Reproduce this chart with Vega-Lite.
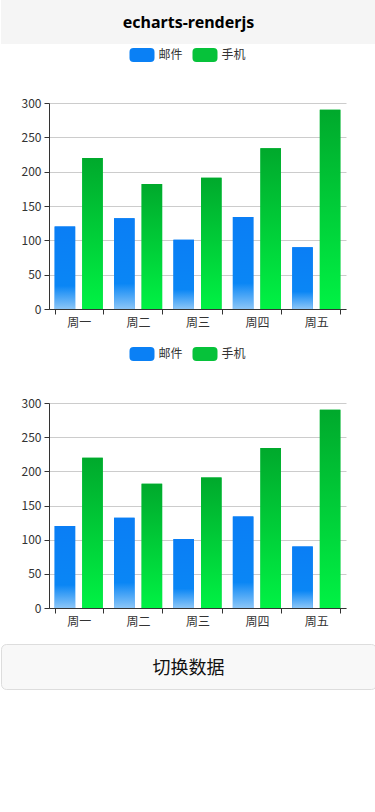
{
  "$schema": "https://vega.github.io/schema/vega-lite/v6.json",
  "padding": 0,
  "spacing": 0,
  "background": "white",
  "datasets": {
    "week": [
      {"day": "周一", "series": "邮件", "value": 120},
      {"day": "周二", "series": "邮件", "value": 132},
      {"day": "周三", "series": "邮件", "value": 101},
      {"day": "周四", "series": "邮件", "value": 134},
      {"day": "周五", "series": "邮件", "value": 90},
      {"day": "周一", "series": "手机", "value": 220},
      {"day": "周二", "series": "手机", "value": 182},
      {"day": "周三", "series": "手机", "value": 191},
      {"day": "周四", "series": "手机", "value": 234},
      {"day": "周五", "series": "手机", "value": 290}
    ],
    "header": [{"t": "echarts-renderjs"}],
    "button": [{"t": "切换数据"}]
  },
  "config": {
    "view": {"stroke": null},
    "font": "Noto Sans CJK SC"
  },
  "resolve": {
    "scale": {"color": "independent", "x": "independent", "y": "independent", "xOffset": "independent"},
    "legend": {"color": "independent"}
  },
  "vconcat": [
    {
      "width": 375,
      "height": 44,
      "view": {"fill": "#f5f5f5", "stroke": null},
      "data": {"name": "header"},
      "mark": {"type": "text", "fontSize": 16, "fontWeight": "bold", "font": "Noto Sans", "color": "#000000", "dy": 1},
      "encoding": {"text": {"field": "t", "type": "nominal"}}
    },
    {
      "width": 345,
      "height": 206,
      "data": {"name": "week"},
      "encoding": {
        "x": {
          "field": "day", "type": "nominal",
          "sort": ["周一", "周二", "周三", "周四", "周五"],
          "scale": {"paddingInner": 0.19, "paddingOuter": 0.095, "range": [48, 345]},
          "axis": {"title": null, "labelAngle": 0, "tickBand": "extent", "domainColor": "#333333", "tickColor": "#333333", "tickSize": 5, "labelColor": "#333333", "labelFontSize": 12, "labelPadding": 3, "grid": false, "minExtent": 35, "maxExtent": 35}
        },
        "xOffset": {"field": "series", "type": "nominal", "sort": ["邮件", "手机"], "scale": {"paddingInner": 0.255}},
        "y": {
          "field": "value", "type": "quantitative",
          "scale": {"domain": [0, 300]},
          "axis": {"title": null, "offset": -48, "values": [0, 50, 100, 150, 200, 250, 300], "grid": true, "gridColor": "#cccccc", "domainColor": "#333333", "tickColor": "#333333", "tickSize": 5, "labelColor": "#333333", "labelFontSize": 12, "labelPadding": 3}
        }
      },
      "layer": [
        {
          "mark": {"type": "bar"},
          "encoding": {
            "color": {
              "field": "series", "type": "nominal", "sort": ["邮件", "手机"],
              "scale": {"range": ["#0a80f5", "#06c23a"]},
              "legend": {"orient": "none", "legendX": 130, "legendY": -59, "padding": 1, "direction": "horizontal", "title": null, "symbolType": "M-0.85,-0.7L0.85,-0.7Q1.25,-0.7,1.25,-0.3L1.25,0.3Q1.25,0.7,0.85,0.7L-0.85,0.7Q-1.25,0.7,-1.25,0.3L-1.25,-0.3Q-1.25,-0.7,-0.85,-0.7Z", "symbolSize": 400, "symbolStrokeWidth": 0, "symbolOpacity": 1, "labelFontSize": 12, "labelColor": "#333333", "labelOffset": 6.5, "columnPadding": 9}
            }
          }
        },
        {
          "mark": {"type": "bar"},
          "encoding": {
            "fill": {
              "condition": {"test": "datum.series === '邮件'", "value": {"gradient": "linear", "x1": 0, "y1": 0, "x2": 0, "y2": 1, "stops": [{"offset": 0, "color": "#0a7ef5"}, {"offset": 0.72, "color": "#0a86f5"}, {"offset": 1, "color": "#8cc6f7"}]}},
              "value": {"gradient": "linear", "x1": 0, "y1": 0, "x2": 0, "y2": 1, "stops": [{"offset": 0, "color": "#00a92c"}, {"offset": 1, "color": "#00f244"}]}
            }
          }
        }
      ]
    },
    {
      "width": 345,
      "height": 205,
      "data": {"name": "week"},
      "encoding": {
        "x": {
          "field": "day", "type": "nominal",
          "sort": ["周一", "周二", "周三", "周四", "周五"],
          "scale": {"paddingInner": 0.19, "paddingOuter": 0.095, "range": [48, 345]},
          "axis": {"title": null, "labelAngle": 0, "tickBand": "extent", "domainColor": "#333333", "tickColor": "#333333", "tickSize": 5, "labelColor": "#333333", "labelFontSize": 12, "labelPadding": 3, "grid": false, "minExtent": 35, "maxExtent": 35}
        },
        "xOffset": {"field": "series", "type": "nominal", "sort": ["邮件", "手机"], "scale": {"paddingInner": 0.255}},
        "y": {
          "field": "value", "type": "quantitative",
          "scale": {"domain": [0, 300]},
          "axis": {"title": null, "offset": -48, "values": [0, 50, 100, 150, 200, 250, 300], "grid": true, "gridColor": "#cccccc", "domainColor": "#333333", "tickColor": "#333333", "tickSize": 5, "labelColor": "#333333", "labelFontSize": 12, "labelPadding": 3}
        }
      },
      "layer": [
        {
          "mark": {"type": "bar"},
          "encoding": {
            "color": {
              "field": "series", "type": "nominal", "sort": ["邮件", "手机"],
              "scale": {"range": ["#0a80f5", "#06c23a"]},
              "legend": {"orient": "none", "legendX": 131, "legendY": -59, "padding": 0, "direction": "horizontal", "title": null, "symbolType": "M-0.85,-0.7L0.85,-0.7Q1.25,-0.7,1.25,-0.3L1.25,0.3Q1.25,0.7,0.85,0.7L-0.85,0.7Q-1.25,0.7,-1.25,0.3L-1.25,-0.3Q-1.25,-0.7,-0.85,-0.7Z", "symbolSize": 400, "symbolStrokeWidth": 0, "symbolOpacity": 1, "labelFontSize": 12, "labelColor": "#333333", "labelOffset": 6.5, "columnPadding": 9}
            }
          }
        },
        {
          "mark": {"type": "bar"},
          "encoding": {
            "fill": {
              "condition": {"test": "datum.series === '邮件'", "value": {"gradient": "linear", "x1": 0, "y1": 0, "x2": 0, "y2": 1, "stops": [{"offset": 0, "color": "#0a7ef5"}, {"offset": 0.72, "color": "#0a86f5"}, {"offset": 1, "color": "#8cc6f7"}]}},
              "value": {"gradient": "linear", "x1": 0, "y1": 0, "x2": 0, "y2": 1, "stops": [{"offset": 0, "color": "#00a92c"}, {"offset": 1, "color": "#00f244"}]}
            }
          }
        }
      ]
    },
    {
      "width": 375,
      "height": 45,
      "view": {"fill": "#f8f8f8", "stroke": "#dddddd", "cornerRadius": 5},
      "data": {"name": "button"},
      "mark": {"type": "text", "fontSize": 18, "color": "#111111", "dy": 2},
      "encoding": {"text": {"field": "t", "type": "nominal"}}
    }
  ]
}
